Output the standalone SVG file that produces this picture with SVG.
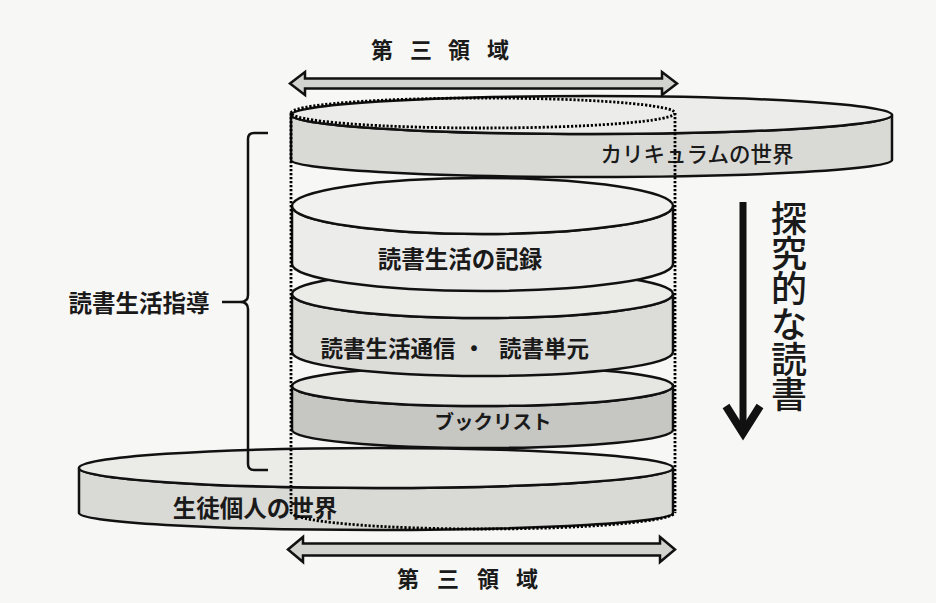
<svg xmlns="http://www.w3.org/2000/svg" width="936" height="603" viewBox="0 0 936 603">
<style>
.ol{stroke:#111;stroke-width:2.5;stroke-linejoin:round}
.dot{fill:none;stroke:#000;stroke-width:2.8;stroke-dasharray:2.2 1.8}
.t{font-family:"Noto Sans CJK JP","Noto Sans CJK SC",sans-serif;fill:#1a1a1a;dominant-baseline:central;text-anchor:middle}
.b{font-weight:bold}
.arr{fill:#d2d2ce;stroke:#111;stroke-width:2.5;stroke-linejoin:miter}
</style>
<rect width="936" height="603" fill="#f7f7f5"/>

<g id="student-world">
  <path class="ol" fill="#d9d9d5" d="M79,468 L79,513 A297,17 0 0 0 673,513 L673,468 A297,20 0 0 1 79,468 Z"/>
  <ellipse class="ol" cx="376" cy="468" rx="297" ry="20" fill="#ebebe8"/>
  <text class="t b" x="255" y="507" font-size="23.5">生徒個人の世界</text>
</g>

<g id="booklist">
  <path class="ol" fill="#c6c6c2" d="M292,386 L292,430 A190.5,18 0 0 0 673,430 L673,386 A190.5,20 0 0 1 292,386 Z"/>
  <ellipse class="ol" cx="482.5" cy="386" rx="190.5" ry="20" fill="#e6e6e3"/>
  <text class="t b" x="493" y="420" font-size="19.5">ブックリスト</text>
</g>

<g id="tsushin">
  <path class="ol" fill="#dcdcd8" d="M292,294 L292,352 A190.5,24 0 0 0 673,352 L673,294 A190.5,24 0 0 1 292,294 Z"/>
  <ellipse class="ol" cx="482.5" cy="294" rx="190.5" ry="24" fill="#ebebe8"/>
  <text class="t b" x="388" y="347" font-size="22.5">読書生活通信</text>
  <text class="t b" x="474" y="347" font-size="22.5">・</text>
  <text class="t b" x="544" y="347" font-size="22.5">読書単元</text>
</g>

<g id="kiroku">
  <path class="ol" fill="#ececea" d="M292,206 L292,264 A190.5,27 0 0 0 673,264 L673,206 A190.5,28 0 0 1 292,206 Z"/>
  <ellipse class="ol" cx="482.5" cy="206" rx="190.5" ry="28" fill="#f1f1ef"/>
  <text class="t b" x="460" y="258" font-size="23.5">読書生活の記録</text>
</g>

<g id="curriculum-world">
  <path class="ol" fill="#d9d9d5" d="M291,115 L291,160 A300.5,17 0 0 0 892,160 L892,115 A300.5,19 0 0 1 291,115 Z"/>
  <ellipse class="ol" cx="591.5" cy="115" rx="300.5" ry="19" fill="#ececea"/>
  <text class="t" x="697" y="152" font-size="21.5" font-weight="500">カリキュラムの世界</text>
</g>

<g id="third-area">
  <ellipse class="dot" cx="483" cy="113" rx="192" ry="15"/>
  <path class="dot" d="M291,113 V512"/>
  <path class="dot" d="M675,113 V512"/>
  <path class="dot" d="M291,512 A192,17 0 0 0 675,512"/>
</g>

<g id="connectors">
  <polygon class="arr" points="290,83.5 305,72 305,78.5 662,78.5 662,72 677,83.5 662,95 662,88.5 305,88.5 305,95"/>
  <polygon class="arr" points="288,549.5 303,537 303,543.5 660,543.5 660,537 675,549.5 660,562 660,555.5 303,555.5 303,562"/>
  <path fill="none" stroke="#111" stroke-width="2.5" d="M268,133 H254 Q248,133 248,139 V295 Q248,302 240,302 Q248,302 248,309 V464 Q248,470 254,470 H268 M222,302 H240"/>
  <path fill="none" stroke="#111" stroke-width="7" d="M743,202 V432"/>
  <path fill="none" stroke="#111" stroke-width="8" stroke-linejoin="miter" stroke-miterlimit="10" d="M726,406 L743,433 L760,406"/>
</g>

<g id="labels">
  <text class="t b" x="382 421 459 498" y="48" font-size="22">第三領域</text>
  <text class="t b" x="408 448 488 527" y="577" font-size="22">第三領域</text>
  <text class="t b" x="139" y="302" font-size="23.5">読書生活指導</text>
  <text class="t" font-size="36" font-weight="500" x="789 789 789 789 789 789" y="216 251 286 322 357 392">探究的な読書</text>
</g>
</svg>
